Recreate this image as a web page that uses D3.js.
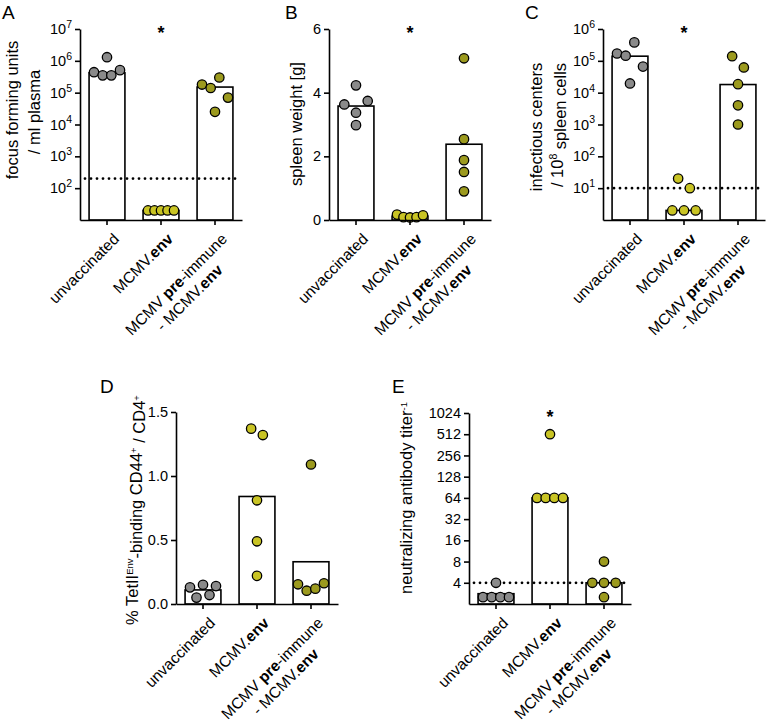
<!DOCTYPE html>
<html><head><meta charset="utf-8">
<script src="https://cdn.jsdelivr.net/npm/d3@7"></script>
<style>
body{margin:0;background:#fff}
svg{display:block}
text{font-family:"Liberation Sans",Arial,Helvetica,sans-serif;fill:#000}
</style>
</head><body>
<svg id="chart" width="766" height="723"></svg>
<script>
// ---------- data ----------
const categories = ["unvaccinated", "MCMV.**env**", "MCMV **pre**-immune\n- MCMV.**env**"];

// A: focus forming units / ml plasma
const focusBars   = [4.2e5, 20, 1.5e5];
const focusUnvacc = [1.3e6, 4.4e5, 3.5e5, 3.5e5, 5.1e5];
const focusEnv    = [20, 20, 20, 20, 20];
const focusPre    = [1.8e5, 1.4e5, 3.0e5, 7.0e4, 2.5e4];
const focusLimit  = 200;
const focusTicks  = [1e2, 1e3, 1e4, 1e5, 1e6, 1e7];

// B: spleen weight [g]
const spleenBars   = [3.58, 0.12, 2.38];
const spleenUnvacc = [4.23, 3.63, 3.37, 3.74, 2.98];
const spleenEnv    = [0.17, 0.09, 0.08, 0.09, 0.15];
const spleenPre    = [5.08, 2.54, 1.88, 1.51, 0.90];
const spleenTicks  = [0, 2, 4, 6];

// C: infectious centers / 10^8 spleen cells
const icBars   = [1.4e5, 2, 1.8e4];
const icUnvacc = [1.7e5, 1.45e5, 3.8e5, 6.6e4, 1.95e4];
const icEnv    = [20, 10, 2, 2, 2];
const icPre    = [1.4e5, 6.2e4, 1.85e4, 4.0e3, 1.0e3];
const icLimit  = 10;
const icTicks  = [1e1, 1e2, 1e3, 1e4, 1e5, 1e6];

// D: % TetII-Env binding CD44+ / CD4+
const tetBars   = [0.11, 0.84, 0.33];
const tetUnvacc = [0.13, 0.05, 0.15, 0.07, 0.14];
const tetEnv    = [1.37, 1.32, 0.81, 0.49, 0.22];
const tetPre    = [1.09, 0.154, 0.104, 0.12, 0.162];
const tetTicks  = [0, 0.5, 1.0, 1.5];

// E: neutralizing antibody titer^-1
const ntBars   = [2.8, 64, 4];
const ntUnvacc = [4, 2.5, 2.5, 2.5, 2.5];
const ntEnv    = [512, 64, 64, 64, 64];
const ntPre    = [8, 4, 4, 4, 2.5];
const ntLimit  = 4;
const ntTicks  = [4, 8, 16, 32, 64, 128, 256, 512, 1024];

// ---------- styling ----------
const dotColors = ["#8a8a8a", "#c9c424", "#9c9a1e"];
const FONT_TICK = 14.5, FONT_TITLE = 16.5, FONT_CAT = 15.5, FONT_SUP = 10.5;

const svg = d3.select("#chart");

function swarm(values, y, cx) {
  const pts = values.map((v, i) => ({v, i, y: y(v)}));
  const sorted = pts.slice().sort((a, b) => a.y - b.y);
  const clusters = [];
  let cur = [sorted[0]];
  for (let k = 1; k < sorted.length; k++) {
    if (sorted[k].y - sorted[k - 1].y < 11.4) cur.push(sorted[k]);
    else { clusters.push(cur); cur = [sorted[k]]; }
  }
  clusters.push(cur);
  clusters.forEach(c => {
    c.sort((a, b) => a.i - b.i);
    const n = c.length;
    const sp = n > 1 ? Math.min(11.7, 26 / (n - 1)) : 0;
    c.forEach((p, j) => { p.x = cx + (j - (n - 1) / 2) * sp; });
  });
  return pts;
}

function catLabel(g, str, x, y) {
  const grp = g.append("g").attr("transform", `translate(${x + 13},${y + 20}) rotate(-45)`);
  let len1 = 0;
  str.split("\n").forEach((ln, li) => {
    const t = grp.append("text").attr("font-size", FONT_CAT);
    ln.split("**").forEach((seg, si) => {
      if (seg) t.append("tspan").attr("font-weight", si % 2 ? "bold" : "normal").text(seg);
    });
    if (li === 0) { t.attr("text-anchor", "end"); len1 = t.node().getComputedTextLength(); }
    else t.attr("text-anchor", "middle").attr("x", -len1 / 2).attr("y", li * 19);
  });
}

function panel(cfg) {
  const g = svg.append("g");
  const x = d3.scaleBand().domain(categories).range([cfg.x0, cfg.x0 + 162])
    .paddingInner(0.336).paddingOuter(0.168);
  const y = cfg.y;

  g.selectAll("rect.bar").data(cfg.bars).join("rect")
    .attr("x", (d, i) => x(categories[i]))
    .attr("y", d => y(d))
    .attr("width", x.bandwidth())
    .attr("height", d => cfg.yBot - y(d))
    .attr("fill", "#fff").attr("stroke", "#000").attr("stroke-width", 1.6);

  if (cfg.limit !== undefined) {
    g.append("line")
      .attr("x1", cfg.x0 + 5).attr("x2", cfg.x0 + 158)
      .attr("y1", y(cfg.limit)).attr("y2", y(cfg.limit))
      .attr("stroke", "#000").attr("stroke-width", 2.8)
      .attr("stroke-linecap", "round").attr("stroke-dasharray", "0,6");
  }

  cfg.groups.forEach((vals, gi) => {
    const cx = x(categories[gi]) + x.bandwidth() / 2;
    const pts = swarm(vals, y, cx);
    g.selectAll(null).data(pts).join("circle")
      .attr("cx", d => d.x).attr("cy", d => d.y).attr("r", 4.7)
      .attr("fill", dotColors[gi]).attr("stroke", "#000").attr("stroke-width", 1.3);
  });

  const ya = g.append("g").attr("transform", `translate(${cfg.x0},0)`)
    .call(d3.axisLeft(y).tickValues(cfg.ticks).tickSize(5).tickSizeOuter(0).tickPadding(3)
      .tickFormat(cfg.fmt || (d => d)));
  ya.selectAll("text").attr("font-size", FONT_TICK).attr("font-family", null);
  if (cfg.logLabels) {
    ya.selectAll(".tick text").each(function(d) {
      const t = d3.select(this).text(null);
      t.append("tspan").text("10");
      t.append("tspan").attr("dy", "-0.6em").attr("font-size", FONT_SUP).text(Math.round(Math.log10(d)));
    });
  }
  const xa = g.append("g").attr("transform", `translate(0,${cfg.yBot})`)
    .call(d3.axisBottom(x).tickSize(5).tickSizeOuter(0).tickFormat(""));
  [ya, xa].forEach(a => {
    a.select(".domain").attr("stroke-width", 1.6);
    a.selectAll(".tick line").attr("stroke-width", 1.6);
  });
  categories.forEach(c => catLabel(g, c, x(c) + x.bandwidth() / 2, cfg.yBot));

  if (cfg.star) {
    g.append("text").attr("x", x(categories[1]) + x.bandwidth() / 2).attr("y", cfg.yTop + 10)
      .attr("text-anchor", "middle").attr("font-size", 18).attr("font-weight", "bold").text("*");
  }
  g.append("text").attr("x", cfg.letterX).attr("y", cfg.letterY).attr("font-size", 19).text(cfg.letter);

  cfg.title(g);
  return g;
}

function vtext(g, x, y) {
  return g.append("text").attr("transform", `translate(${x},${y}) rotate(-90)`)
    .attr("text-anchor", "middle").attr("font-size", FONT_TITLE);
}

// A
panel({
  letter: "A", letterX: 2, letterY: 19,
  x0: 80, yTop: 29, yBot: 220,
  y: d3.scaleLog().domain([10, 1e7]).range([220, 29]),
  bars: focusBars, groups: [focusUnvacc, focusEnv, focusPre], limit: focusLimit,
  ticks: focusTicks, logLabels: true, star: true,
  title: g => { vtext(g, 18, 110).text("focus forming units"); vtext(g, 40, 112).text("/ ml plasma"); }
});
// B
panel({
  letter: "B", letterX: 285, letterY: 19,
  x0: 329, yTop: 29, yBot: 220,
  y: d3.scaleLinear().domain([0, 6]).range([220, 29]),
  bars: spleenBars, groups: [spleenUnvacc, spleenEnv, spleenPre],
  ticks: spleenTicks, star: true,
  title: g => { vtext(g, 302, 124).text("spleen weight [g]"); }
});
// C
panel({
  letter: "C", letterX: 525, letterY: 19,
  x0: 603, yTop: 29, yBot: 220,
  y: d3.scaleLog().domain([1, 1e6]).range([220, 29]),
  bars: icBars, groups: [icUnvacc, icEnv, icPre], limit: icLimit,
  ticks: icTicks, logLabels: true, star: true,
  title: g => {
    vtext(g, 542, 127).text("infectious centers");
    const t = vtext(g, 563, 125);
    t.append("tspan").text("/ 10");
    t.append("tspan").attr("dy", "-0.55em").attr("font-size", FONT_SUP).text("8");
    t.append("tspan").attr("dy", "0.55em").text(" spleen cells");
  }
});
// D
panel({
  letter: "D", letterX: 100, letterY: 393,
  x0: 176, yTop: 412, yBot: 604,
  y: d3.scaleLinear().domain([0, 1.5]).range([604, 412]),
  bars: tetBars, groups: [tetUnvacc, tetEnv, tetPre],
  ticks: tetTicks, fmt: d3.format(".1f"),
  title: g => {
    const t = vtext(g, 138, 510);
    t.append("tspan").text("% TetII");
    t.append("tspan").attr("dy", "-0.5em").attr("font-size", 9.5).text("Env");
    t.append("tspan").attr("dy", "0.5em").text("-binding CD44");
    t.append("tspan").attr("dy", "-0.5em").attr("font-size", 9.5).text("+");
    t.append("tspan").attr("dy", "0.5em").text(" / CD4");
    t.append("tspan").attr("dy", "-0.5em").attr("font-size", 9.5).text("+");
  }
});
// E
panel({
  letter: "E", letterX: 392, letterY: 393,
  x0: 469, yTop: 413, yBot: 604,
  y: d3.scaleLog().base(2).domain([2, 1024]).range([604, 413]),
  bars: ntBars, groups: [ntUnvacc, ntEnv, ntPre], limit: ntLimit,
  ticks: ntTicks, star: true,
  title: g => {
    const t = vtext(g, 412, 498);
    t.append("tspan").text("neutralizing antibody titer");
    t.append("tspan").attr("dy", "-0.55em").attr("font-size", 9.5).text("-1");
  }
});
</script>
</body></html>
